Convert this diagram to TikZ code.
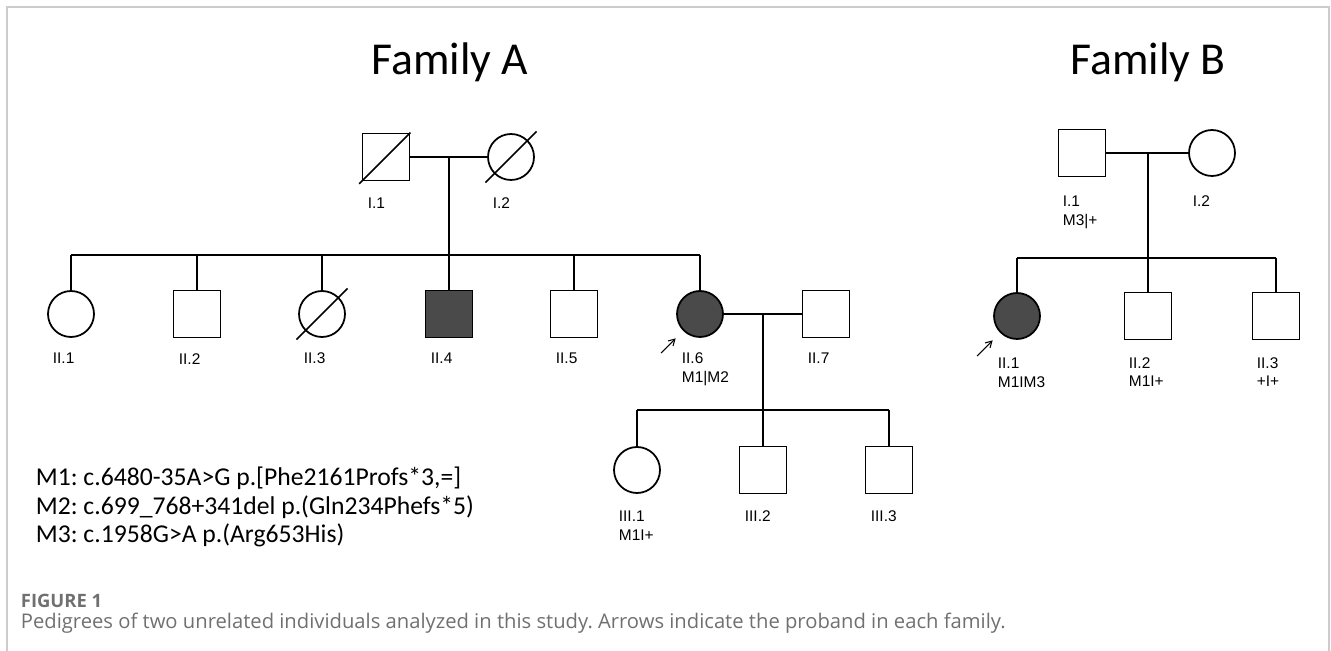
\documentclass[tikz,border=0pt]{standalone}
\usepackage{fontspec}
\setmainfont{Liberation Sans}
\newfontfamily\calibri{Carlito}
\newfontfamily\capfont{Open Sans}
\usepackage{tikz}
\usetikzlibrary{arrows.meta}
\frenchspacing

\definecolor{affect}{HTML}{4A4A4A}
\definecolor{framecol}{HTML}{CCCCCC}
\definecolor{capcol}{HTML}{707070}

\tikzset{
  male/.style={draw,rectangle,minimum size=0.94cm,inner sep=0pt,line width=1pt},
  female/.style={draw,circle,minimum size=0.92cm,inner sep=0pt,line width=1pt},
  affected/.style={fill=affect},
  lbl/.style={anchor=north west,align=left,inner sep=0pt,font=\fontsize{8.8}{10.6}\selectfont},
  proband/.style={-{Straight Barb[length=3.5pt,width=4pt]},line width=0.6pt,shorten >=6pt},
}

\begin{document}
\begin{tikzpicture}[x=0.02cm,y=-0.02cm,line width=1pt]
  \useasboundingbox (0,0) rectangle (1331,651);
  \draw[framecol,line width=1.2pt] (7,651) -- (7,7) -- (1329,7) -- (1329,651);

  % titles
  \node (tA) at (450,62) {\calibri\fontsize{26}{30}\selectfont Family A};
  \node (tB) at (1148,62) {\calibri\fontsize{26}{30}\selectfont Family B};

  % family A
  \node (A11)[male] at (386,157) {};
  \node (A12)[female] at (511,157) {};
  \coordinate (mA) at (449,157);
  \coordinate (sA) at (449,255);

  \node (A21)[female] at (71,314) {};
  \node (A22)[male] at (197,314) {};
  \node (A23)[female] at (322,314) {};
  \node (A24)[male,affected] at (449,314) {};
  \node (A25)[male] at (574,314) {};
  \node (A26)[female,affected] at (700,314) {};
  \node (A27)[male] at (826,314) {};
  \coordinate (mA2) at (763,314);
  \coordinate (sA2) at (763,410);

  \node (A31)[female] at (637,470) {};
  \node (A32)[male] at (763,470) {};
  \node (A33)[male] at (889,470) {};

  \draw (A11) -- (A12);
  \draw (mA) -- (sA);
  \draw (A21 |- sA) -- (A26 |- sA);
  \foreach \n in {A21,A22,A23,A24,A25,A26}
    \draw (\n) -- (\n |- sA);
  \draw (A26) -- (A27);
  \draw (mA2) -- (sA2);
  \draw (A31 |- sA2) -- (A33 |- sA2);
  \foreach \n in {A31,A32,A33}
    \draw (\n) -- (\n |- sA2);

  % deceased
  \draw[shorten <=-2pt] (A11.south west) -- (A11.north east);
  \draw[shorten <=-7pt,shorten >=-7pt] (A12.225) -- (A12.45);
  \draw[shorten <=-7pt,shorten >=-7pt] (A23.225) -- (A23.45);

  \coordinate (pA) at (661,353);
  \draw[proband] (pA) -- (A26);

  \node (A11l)[lbl] at ([shift={(-19,16)}]A11.south) {I.1};
  \node (A12l)[lbl] at ([shift={(-19,16)}]A12.south) {I.2};
  \node (A21l)[lbl] at ([shift={(-19,14)}]A21.south) {II.1};
  \node (A22l)[lbl] at ([shift={(-19,14)}]A22.south) {II.2};
  \node (A23l)[lbl] at ([shift={(-19,14)}]A23.south) {II.3};
  \node (A24l)[lbl] at ([shift={(-19,14)}]A24.south) {II.4};
  \node (A25l)[lbl] at ([shift={(-19,14)}]A25.south) {II.5};
  \node (A26l)[lbl] at ([shift={(-19,14)}]A26.south) {II.6\\M1|M2};
  \node (A27l)[lbl] at ([shift={(-19,14)}]A27.south) {II.7};
  \node (A31l)[lbl] at ([shift={(-19,16)}]A31.south) {III.1\\M1I+};
  \node (A32l)[lbl] at ([shift={(-19,15)}]A32.south) {III.2};
  \node (A33l)[lbl] at ([shift={(-19,15)}]A33.south) {III.3};

  % family B
  \node (B11)[male] at (1082,153) {};
  \node (B12)[female] at (1212,153) {};
  \coordinate (mB) at (1148,153);
  \coordinate (sB) at (1148,258);

  \node (B21)[female,affected] at (1017,316) {};
  \node (B22)[male] at (1148,316) {};
  \node (B23)[male] at (1276,316) {};

  \draw (B11) -- (B12);
  \draw (mB) -- (sB);
  \draw (B21 |- sB) -- (B23 |- sB);
  \foreach \n in {B21,B22,B23}
    \draw (\n) -- (\n |- sB);

  \coordinate (pB) at (977,356);
  \draw[proband] (pB) -- (B21);

  \node (B11l)[lbl] at ([shift={(-20,18)}]B11.south) {I.1\\M3|+};
  \node (B12l)[lbl] at ([shift={(-20,18)}]B12.south) {I.2};
  \node (B21l)[lbl] at ([shift={(-20,17)}]B21.south) {II.1\\M1IM3};
  \node (B22l)[lbl] at ([shift={(-20,16)}]B22.south) {II.2\\M1I+};
  \node (B23l)[lbl] at ([shift={(-20,16)}]B23.south) {II.3\\+I+};

  % mutations
  \node (mut)[anchor=west,align=left,inner sep=0pt,
    font=\calibri\fontsize{14.6}{16}\selectfont] at (35,507)
    {M1: c.6480-35A>G p.[Phe2161Profs*3,=]\\
     M2: c.699\_768+341del p.(Gln234Phefs*5)\\
     M3: c.1958G>A p.(Arg653His)};

  % caption
  \node (fig)[anchor=west,inner sep=0pt,text=capcol] at (20,601)
    {\capfont\bfseries\fontsize{10.5}{12}\selectfont FIGURE 1};
  \node (cap)[anchor=west,inner sep=0pt,text=capcol] at (20,623)
    {\capfont\fontsize{11.5}{13}\selectfont Pedigrees of two unrelated individuals analyzed in this study. Arrows indicate the proband in each family.};
\end{tikzpicture}
\end{document}
